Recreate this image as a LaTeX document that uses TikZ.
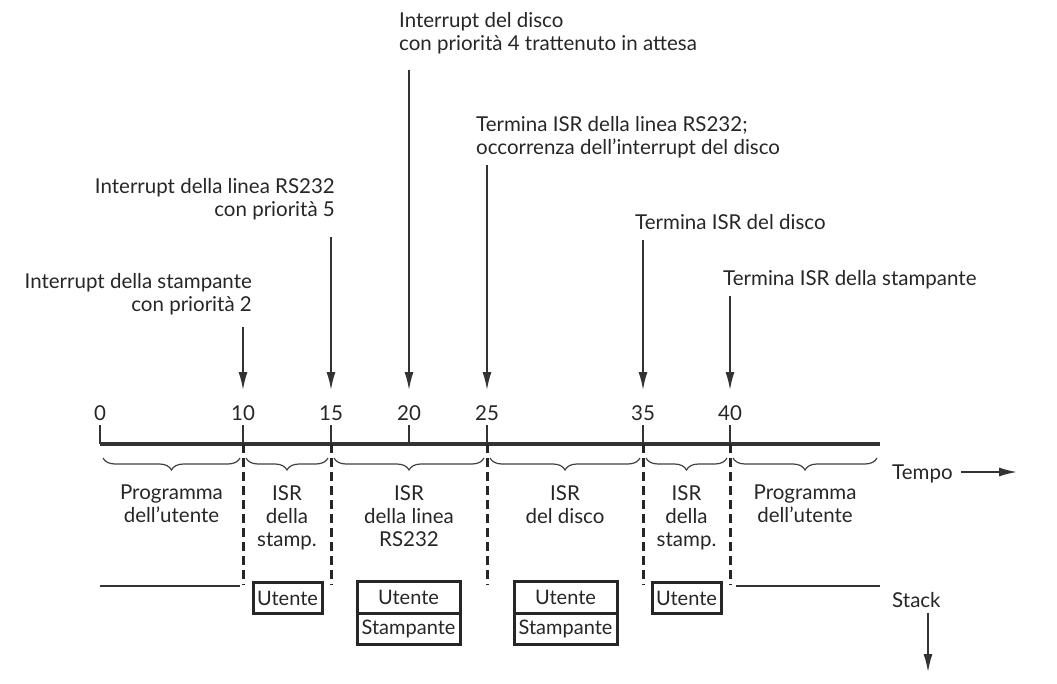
\documentclass[tikz,border=0pt]{standalone}
\usepackage{fontspec}
\setmainfont{Lato}
\usetikzlibrary{arrows.meta,
                calc, %for relative coord calculations
                decorations.pathreplacing, %for braces
                positioning}

\begin{document}
\begin{tikzpicture}[x=1pt, y=-1pt,
                    every node/.style={font=\fontsize{20.5}{23}\selectfont, text=black!85, inner sep=0pt},
                    evtext/.style={align=left},
                    evarrow/.style={-{Latex[length=18pt, width=9pt]}, line width=1.6pt, black!80},
                    axisline/.style={line width=3.6pt, black!80},
                    tickline/.style={line width=1.6pt, black!80},
                    phasebrace/.style={decorate, decoration={brace, mirror, amplitude=12pt}, line width=1.2pt, black!75},
                    cutline/.style={dashed, dash pattern=on 9pt off 5pt, line width=3pt, black!85},
                    stackbox/.style={draw, line width=3pt, black!85, minimum height=31.5pt, outer sep=0pt,
                                     font=\fontsize{20}{23}\selectfont}
                    ]
    \useasboundingbox (0,0) rectangle (1057,684);

    % AXIS %
    \foreach \t/\x in {0/100,10/243,15/331,20/409,25/487,35/643,40/730}{
    \coordinate (T\t) at (\x,444);
    \draw[tickline] (\x,425) -- (T\t);
    \node[anchor=south] (N\t) at (\x,421) {\t};
    }
    \coordinate (Tend) at (880,444);
    \draw[axisline] (T0) -- (Tend);

    % EVENTS %
    \node[evtext, align=right, anchor=east] (E10) at (252,294) {Interrupt della stampante\\con priorità 2};
    \node[evtext, align=right, anchor=east] (E15) at (335,199) {Interrupt della linea RS232\\con priorità 5};
    \node[evtext, anchor=west] (E20) at (399,33) {Interrupt del disco\\con priorità 4 trattenuto in attesa};
    \node[evtext, anchor=west] (E25) at (476,137) {Termina ISR della linea RS232;\\occorrenza dell’interrupt del disco};
    \node[evtext, anchor=west] (E35) at (635,222) {Termina ISR del disco};
    \node[evtext, anchor=west] (E40) at (723,280) {Termina ISR della stampante};

    \foreach \t/\y in {10/327,15/237,20/70,25/165,35/240,40/296}{
    \coordinate (S\t) at (T\t |- 0,\y);
    \coordinate (A\t) at (T\t |- 0,390);
    \draw[evarrow] (S\t) -- (A\t);
    }

    % PHASES %
    \foreach \a/\b in {0/10,10/15,15/25,25/35,35/40,40/end}
    \draw[phasebrace] ($(T\a)+(3,14)$) -- ($(T\b)+(-3,14)$);

    \foreach \a/\b/\txt in {0/10/{Programma\\dell’utente}, 10/15/{ISR\\della\\stamp.},
                            15/25/{ISR\\della linea\\RS232}, 25/35/{ISR\\del disco},
                            35/40/{ISR\\della\\stamp.}, 40/end/{Programma\\dell’utente}}
    \node[align=center, anchor=north] (P\a) at ($(T\a)!0.5!(T\b)+(0,41)$) {\txt};

    \foreach \t in {10,15,25,35,40}
    \draw[cutline] (T\t) -- ++(0,141);

    % STACK %
    \draw[line width=1.2pt, black!80] (100,586) -- (240,586);
    \draw[line width=1.2pt, black!80] (736,586) -- (880,586);

    \node[stackbox, minimum width=69pt] (U10) at (287.5,598) {Utente};
    \node[stackbox, minimum width=103pt] (U15) at (408.5,597.5) {Utente};
    \node[stackbox, minimum width=103pt, below=0pt of U15] (St15) {Stampante};
    \node[stackbox, minimum width=103pt] (U25) at (565.5,597.5) {Utente};
    \node[stackbox, minimum width=103pt, below=0pt of U25] (St25) {Stampante};
    \node[stackbox, minimum width=69pt] (U35) at (686.5,598) {Utente};

    % SIDE ARROWS %
    \node[anchor=west] (Tempo) at (892,474) {Tempo};
    \coordinate (TempoEnd) at (1017,472);
    \draw[evarrow] ([xshift=8pt]Tempo.east |- TempoEnd) -- (TempoEnd);

    \node[anchor=west] (Stack) at (892,600) {Stack};
    \coordinate (StackEnd) at (928,672);
    \draw[evarrow] ([yshift=-5pt]Stack.south -| StackEnd) -- (StackEnd);
\end{tikzpicture}
\end{document}
